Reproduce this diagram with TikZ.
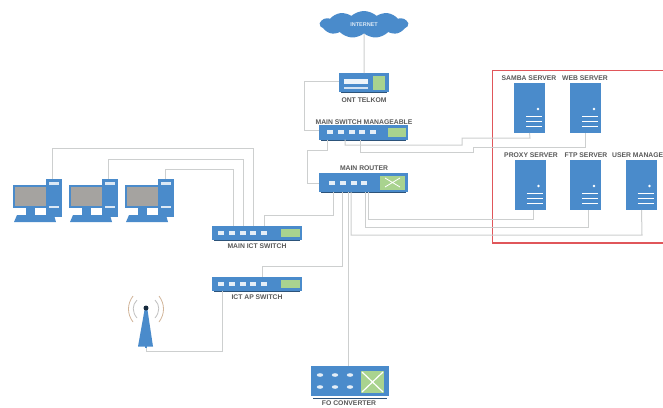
\documentclass[tikz,border=0pt]{standalone}
\usepackage{fontspec}
\setmainfont{Liberation Sans}
\usetikzlibrary{shapes.symbols}
\definecolor{netblue}{HTML}{4A8BCB}
\definecolor{linkgrey}{HTML}{CDCFCF}
\definecolor{boxred}{HTML}{E0565A}
\definecolor{panelgreen}{HTML}{A9D38F}
\definecolor{screengrey}{HTML}{A5A3A0}
\tikzset{
  x=1pt,y=-1pt,
  device/.style={fill=netblue,draw=none,inner sep=0,outer sep=0,rectangle},
  link/.style={draw=linkgrey,line width=1pt},
  lbl/.style={font=\bfseries\fontsize{6.8}{7}\selectfont,text=black!65,inner sep=0},
  port/.style={fill=white!85!netblue,draw=none},
  panel/.style={fill=panelgreen,draw=none},
  barline/.style={draw=black!40!netblue,line width=1pt}
}
% name, left, top, width, height, first port x, number of ports, panel left, panel right
\newcommand{\netsw}[9]{%
  \node[device,minimum width=#4pt,minimum height=#5pt,anchor=north west] (#1) at (#2,#3) {};
  \ifnum#7>0
  \foreach \p in {1,...,#7}{\fill[port] ({#6+(\p-1)*10.8},{#3+#5/2-2}) rectangle ++(6,4);}
  \fi
  \fill[panel] (#8,{#3+2.5}) rectangle (#9,{#3+#5-2.5});
  \draw[barline] ({#2+2},{#3+#5+0.8}) -- ({#2+#4-2},{#3+#5+0.8});
}
\newcommand{\srv}[3]{%
  \node[device,minimum width=31pt,minimum height=50pt,anchor=north west] (#1) at (#2,#3) {};
  \fill[white] ({#2+24},{#3+26}) circle (1.4);
  \foreach \q in {33,38,43}{\draw[white,line width=0.9pt] ({#2+12},{#3+\q}) -- ({#2+28},{#3+\q});}
}
\newcommand{\pc}[3]{%
  \begin{scope}[shift={(#2,#3)}]
    \node[device,minimum width=16pt,minimum height=38pt,anchor=north west] (#1) at (33,0) {};
    \fill[netblue] (0,6) rectangle (34,29);
    \fill[screengrey] (1.5,7.5) rectangle (33,27);
    \fill[netblue] (13,29) rectangle (22,36);
    \fill[netblue] (1,43) -- (4,36) -- (41,36) -- (43,43) -- cycle;
    \fill[white!80!netblue] (36,3) rectangle (46,6);
    \fill[white!80!netblue] (36,27) rectangle (46,29);
  \end{scope}
}
\begin{document}
\begin{tikzpicture}
\useasboundingbox (0,0) rectangle (663,407);
\fill[white] (0,0) rectangle (663,407);
% cloud
\node[cloud,cloud puffs=11,cloud puff arc=85,aspect=3.6,fill=netblue,draw=none,minimum width=88pt,minimum height=27pt,inner sep=0,
      font=\bfseries\fontsize{5.5}{6}\selectfont,text=white!80!netblue] (inet) at (364,24.5) {INTERNET};
% red frame
\draw[boxred,line width=1.2pt] (663.5,70.5) -- (492.5,70.5) -- (492.5,243) -- (663.5,243);
% devices
\netsw{ont}{339}{73}{50}{19}{344}{0}{373}{385}
\netsw{mgmt}{319}{125}{89}{14.5}{327}{5}{388}{406}
\netsw{rtr}{319}{173}{89}{19}{329}{4}{380}{405}
\netsw{ict}{212}{226}{90}{13.5}{218}{5}{281}{300}
\netsw{ap}{212}{277}{90}{13.5}{218}{5}{281}{300}
\node[device,minimum width=78pt,minimum height=30pt,anchor=north west] (conv) at (311,366) {};
\srv{samba}{514}{83}
\srv{web}{570}{83}
\srv{proxy}{514.5}{160}
\srv{ftp}{570}{160}
\srv{user}{625.5}{160}
\pc{pca}{13}{179}
\pc{pcb}{69}{179}
\pc{pcc}{125}{179}
% ont details
\fill[white!90!netblue] (344,79) rectangle (368,84);
\fill[white!75!netblue] (344,87) rectangle (368,89);
% router cross
\draw[white,line width=0.8pt] (385,178) -- (400,187) (400,178) -- (385,187);
% converter details
\foreach \cx in {320,335,350}{\foreach \cy in {375,387}{\fill[port] (\cx,\cy) ellipse (3.2 and 1.8);}}
\fill[panel] (361,371) rectangle (384,393);
\draw[white,line width=1.2pt] (362,372) -- (383,392) (383,372) -- (362,392);
\draw[barline] (313,398) -- (387,398);
% antenna
\node[device,minimum width=2pt,minimum height=2pt] (mast) at (146,347) {};
\fill[netblue] (138,346.5) -- (144.5,310) -- (147.5,310) -- (153,346.5) -- cycle;
\fill[black!70!netblue] (146,308) circle (2.5);
\draw[black!25,line width=.8pt] (137,300) .. controls (132,305) and (132,312) .. (137,318);
\draw[orange!55!black!40,line width=.8pt] (133,296) .. controls (127,304) and (127,314) .. (133,322);
\draw[black!25,line width=.8pt] (155,300) .. controls (160,305) and (160,312) .. (155,318);
\draw[orange!55!black!40,line width=.8pt] (159,296) .. controls (165,304) and (165,314) .. (159,322);
% connectors
\draw[link] (inet.south) -- (ont.north);
\draw[link] ([yshift=-8pt]ont.north west) -- (304,81) -- (304,130) -- ([yshift=-5pt]mgmt.north west);
\draw[link] ([xshift=8pt]mgmt.south west) -- (327,150) -- (307,150) -- (307,183) -- ([yshift=-10pt]rtr.north west);
\draw[link] ([xshift=26pt]mgmt.south west) -- (345,145) -- (462,145) -- (462,138) -- (530,138) -- (samba.south);
\draw[link] ([xshift=41pt]mgmt.south west) -- (360,152) -- (473,152) -- (473,147) -- (585.5,147) -- (web.south);
\draw[link] ([xshift=14pt]rtr.south west) -- (333,215) -- (264,215) -- ([xshift=52pt]ict.north west);
\draw[link] ([xshift=23pt]rtr.south west) -- (342,266) -- (262,266) -- ([xshift=50pt]ap.north west);
\draw[link] ([xshift=29pt]rtr.south west) -- ([xshift=37pt]conv.north west);
\draw[link] ([xshift=32pt]rtr.south west) -- (351,235) -- (642,235) -- ([xshift=16pt]user.south west);
\draw[link] ([xshift=46pt]rtr.south west) -- (365,227) -- (588,227) -- ([xshift=18pt]ftp.south west);
\draw[link] ([xshift=49pt]rtr.south west) -- (368,219) -- (533,219) -- ([xshift=18.5pt]proxy.south west);
\draw[link] ([xshift=41pt]ict.north west) -- (253,148) -- (52,148) -- ([xshift=6pt]pca.north west);
\draw[link] ([xshift=31pt]ict.north west) -- (243,159) -- (108,159) -- ([xshift=6pt]pcb.north west);
\draw[link] ([xshift=21pt]ict.north west) -- (233,169) -- (165,169) -- ([xshift=7pt]pcc.north west);
\draw[link] (mast.south) -- (146,351) -- (222,351) -- ([xshift=10pt]ap.south west);
% labels
\node[lbl] at (364,100) {ONT TELKOM};
\node[lbl] at (364,122) {MAIN SWITCH MANAGEABLE};
\node[lbl] at (364,168) {MAIN ROUTER};
\node[lbl] at (257,246) {MAIN ICT SWITCH};
\node[lbl] at (257,297) {ICT AP SWITCH};
\node[lbl] at (349,403) {FO CONVERTER};
\node[lbl] at (529,78.5) {SAMBA SERVER};
\node[lbl] at (585,78.5) {WEB SERVER};
\node[lbl] at (531,155) {PROXY SERVER};
\node[lbl] at (586,155) {FTP SERVER};
\node[lbl,anchor=west] at (612,155) {USER MANAGER};
\end{tikzpicture}
\end{document}
